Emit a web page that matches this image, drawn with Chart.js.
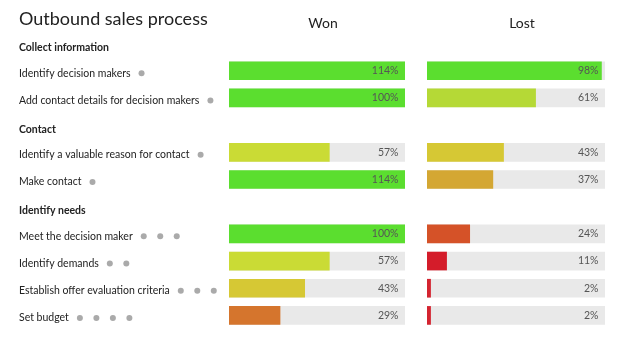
<!DOCTYPE html>
<html>
<head>
<meta charset="utf-8">
<script src="https://cdn.jsdelivr.net/npm/chart.js@4.4.0/dist/chart.umd.min.js"></script>
<style>
  body { margin: 0; background: #fff; width: 625px; height: 338px; overflow: hidden; position: relative; }
  canvas { position: absolute; top: 0; }
  #won { left: 0; }
  #lost { left: 415px; }
</style>
</head>
<body>
<canvas id="won" width="415" height="338"></canvas>
<canvas id="lost" width="210" height="338"></canvas>
<script>
// rows of the funnel, headers included so they get their own slot
const rows = [
    'Collect information',
    'Identify decision makers',
    'Add contact details for decision makers',
    'Contact',
    'Identify a valuable reason for contact',
    'Make contact',
    'Identify needs',
    'Meet the decision maker',
    'Identify demands',
    'Establish offer evaluation criteria',
    'Set budget'
];
const isHeader = [true, false, false, true, false, false, true, false, false, false, false];
const dots = [0, 1, 1, 0, 1, 1, 0, 3, 2, 3, 4];
const won = [null, 114, 100, null, 57, 114, null, 100, 57, 43, 29];
const lost = [null, 98, 61, null, 43, 37, null, 24, 11, 2, 2];

const FONT = 'Lato, "Open Sans", sans-serif';

// value -> colour, red through yellow to green
const stops = [
    [0, [212, 38, 49]], [11, [212, 28, 42]], [24, [213, 82, 40]], [29, [213, 117, 45]],
    [37, [212, 167, 51]], [43, [214, 200, 52]], [57, [202, 219, 53]], [61, [181, 217, 54]],
    [95, [91, 222, 47]]
];
function colorFor(v) {
    if (v >= stops[stops.length - 1][0]) return 'rgb(' + stops[stops.length - 1][1].join(',') + ')';
    for (let i = 1; i < stops.length; i++) {
        if (v <= stops[i][0]) {
            const a = stops[i - 1], b = stops[i];
            const t = (v - a[0]) / (b[0] - a[0]);
            const c = a[1].map((x, k) => Math.round(x + (b[1][k] - x) * t));
            return 'rgb(' + c.join(',') + ')';
        }
    }
}

const labelsPlugin = {
    id: 'rowLabels',
    afterDraw(chart) {
        const ctx = chart.ctx, y = chart.scales.y;
        ctx.save();
        ctx.fillStyle = '#222';
        ctx.font = '18px ' + FONT;
        ctx.textBaseline = 'middle';
        ctx.textAlign = 'left';
        ctx.fillText('Outbound sales process', 19, 19);
        rows.forEach((r, i) => {
            const py = y.getPixelForValue(i);
            ctx.fillStyle = '#222';
            if (isHeader[i]) {
                ctx.font = 'bold 10.5px ' + FONT;
                ctx.fillText(r, 19, py + 4);
            } else {
                ctx.font = '10.5px ' + FONT;
                ctx.fillText(r, 19, py + 2.5);
                const w = ctx.measureText(r).width;
                ctx.fillStyle = '#aaa';
                for (let d = 0; d < dots[i]; d++) {
                    ctx.beginPath();
                    ctx.arc(19 + w + 11 + d * 16.5, py + 2.5, 3, 0, Math.PI * 2);
                    ctx.fill();
                }
            }
        });
        ctx.restore();
    }
};

const valuePlugin = {
    id: 'values',
    afterDatasetsDraw(chart, args, opts) {
        const ctx = chart.ctx, y = chart.scales.y, area = chart.chartArea;
        ctx.save();
        ctx.fillStyle = '#222';
        ctx.font = '14px ' + FONT;
        ctx.textAlign = 'center';
        ctx.textBaseline = 'middle';
        ctx.fillText(opts.heading, (area.left + area.right) / 2 + 6, 23);
        ctx.fillStyle = '#555';
        ctx.font = '10.5px ' + FONT;
        ctx.textAlign = 'right';
        opts.values.forEach((v, i) => {
            if (v == null) return;
            ctx.fillText(v + '%', area.right - 6.5, y.getPixelForValue(i));
        });
        ctx.restore();
    }
};

function makeChart(id, values, heading, padLeft, padRight, extra) {
    const track = rows.map((r, i) => isHeader[i] ? null : 100);
    return new Chart(document.getElementById(id), {
        type: 'bar',
        data: {
            labels: rows,
            datasets: [{
                data: values.map(v => v == null ? null : Math.min(v, 100)),
                backgroundColor: c => colorFor(values[c.dataIndex] || 0),
                barThickness: 18,
                grouped: false,
                order: 0
            }, {
                data: track,
                backgroundColor: '#e9e9e9',
                barThickness: 18,
                grouped: false,
                order: 1
            }]
        },
        options: {
            indexAxis: 'y',
            responsive: false,
            animation: false,
            layout: { padding: { left: padLeft, right: padRight, top: 30, bottom: 9 } },
            scales: {
                x: { display: false, min: 0, max: 100 },
                y: { display: false }
            },
            plugins: {
                legend: { display: false },
                tooltip: { enabled: false },
                values: { values: values, heading: heading }
            }
        },
        plugins: [valuePlugin].concat(extra)
    });
}

makeChart('won', won, 'Won', 229, 10, [labelsPlugin]);
makeChart('lost', lost, 'Lost', 12, 20, []);
</script>
</body>
</html>
